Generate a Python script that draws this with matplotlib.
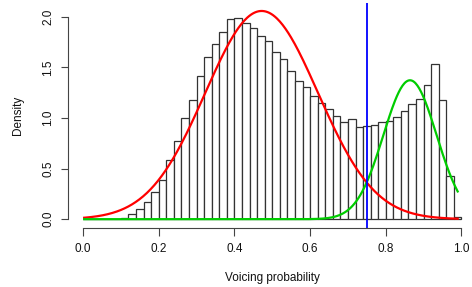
import numpy as np
import matplotlib
matplotlib.use("Agg")
import matplotlib.pyplot as plt

plt.rcParams['font.family'] = ['Liberation Sans', 'DejaVu Sans']

# histogram (bin width 0.02 over 0..1), density values
bin_edges = [round(i * 0.02, 2) for i in range(51)]
densities = [0.0, 0.0, 0.0, 0.0, 0.0,
             0.016, 0.052, 0.099, 0.168, 0.273,
             0.385, 0.582, 0.776, 0.997, 1.181,
             1.415, 1.599, 1.727, 1.846, 1.980,
             1.987, 1.938, 1.888, 1.806, 1.757,
             1.651, 1.579, 1.461, 1.365, 1.309,
             1.217, 1.151, 1.086, 1.023, 0.961,
             0.987, 0.911, 0.924, 0.931, 0.964,
             0.967, 1.007, 1.066, 1.135, 1.185,
             1.323, 1.530, 1.181, 0.427, 0.026]

# mixture components (weight, mean, sd)
red_component = (0.768, 0.472, 0.149)
green_component = (0.2414, 0.864, 0.0702)
curve_range = (0.003, 0.99)
threshold = 0.75

W, H = 472, 287
fig = plt.figure(figsize=(W / 100, H / 100), dpi=100)
left_px, right_px = 67.9, 476.6
top_px, bottom_px = 3.3, 227.5
ax = fig.add_axes([left_px / W, 1 - bottom_px / H,
                   (right_px - left_px) / W, (bottom_px - top_px) / H])

lefts = np.array(bin_edges[:-1])
widths = np.diff(bin_edges)
ax.bar(lefts, densities, width=widths, align='edge', facecolor='white',
       edgecolor='#333333', linewidth=0.9)

xs = np.linspace(curve_range[0], curve_range[1], 400)


def comp(params, x):
    w, m, s = params
    return w * np.exp(-0.5 * ((x - m) / s) ** 2) / (s * np.sqrt(2 * np.pi))


ax.plot(xs, comp(red_component, xs), color='#ff0000', lw=1.6)
ax.plot(xs, comp(green_component, xs), color='#00cd00', lw=1.6)
ax.axvline(threshold, color='#0000ff', lw=1.3)

ax.set_xlim(-0.04, 1.04)
ax.set_ylim(-0.082, 2.132)

for s in ['top', 'right']:
    ax.spines[s].set_visible(False)
ax.spines['left'].set_bounds(0, 2)
ax.spines['bottom'].set_bounds(0, 1)
for s in ['left', 'bottom']:
    ax.spines[s].set_color('#444444')
    ax.spines[s].set_linewidth(0.8)

ax.set_xticks([0.0, 0.2, 0.4, 0.6, 0.8, 1.0])
ax.set_xticklabels(['0.0', '0.2', '0.4', '0.6', '0.8', '1.0'])
ax.set_yticks([0.0, 0.5, 1.0, 1.5, 2.0])
ax.set_yticklabels(['0.0', '0.5', '1.0', '1.5', '2.0'], rotation=90, va='center')
ax.tick_params(axis='both', length=5.4, width=0.8, color='#444444',
               labelsize=8.5, labelcolor='#111111')
ax.tick_params(axis='x', pad=5.5)
ax.tick_params(axis='y', pad=4.5)

fig.text(18.3 / W, 1 - 115 / H, 'Density', rotation=90, ha='center', va='center',
         fontsize=8.5, color='#111111')
fig.text((83 + 461.5) / 2 / W, 1 - 278 / H, 'Voicing probability', ha='center',
         va='center', fontsize=8.5, color='#111111')

fig.savefig('out.png', dpi=100)
